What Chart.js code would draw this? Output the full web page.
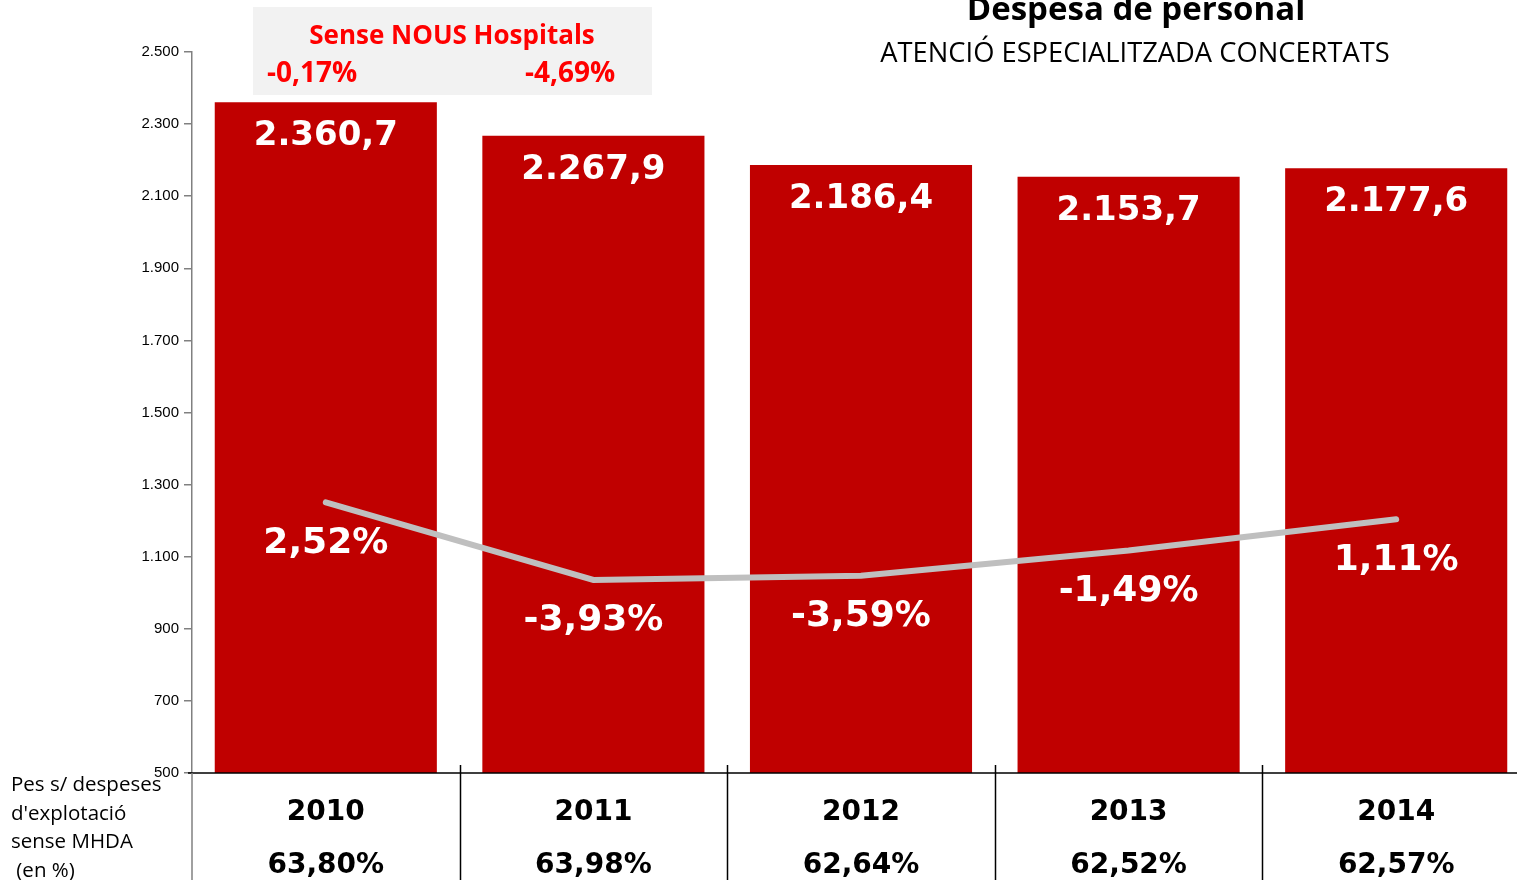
<!DOCTYPE html>
<html>
<head>
<meta charset="utf-8">
<script src="https://cdn.jsdelivr.net/npm/chart.js@4/dist/chart.umd.min.js"></script>
<style>
  html, body { margin: 0; padding: 0; background: #fff; overflow: hidden; }
  #wrap { position: relative; width: 1530px; height: 880px; }
</style>
</head>
<body>
<div id="wrap"><canvas id="myChart"></canvas></div>
<script>
// data
const years = ['2010', '2011', '2012', '2013', '2014'];
const spend = [2360.7, 2267.9, 2186.4, 2153.7, 2177.6];
const growth = [2.52, -3.93, -3.59, -1.49, 1.11];
const share = [63.80, 63.98, 62.64, 62.52, 62.57];
const newHospGrowth = [-0.17, -4.69];
const yTicks = [500, 700, 900, 1100, 1300, 1500, 1700, 1900, 2100, 2300, 2500];

const RED = '#C00000';
const GREY = '#BFBFBF';

function thousands(n) {
  return String(n).replace(/\B(?=(\d{3})+(?!\d))/g, '.');
}
function fmtSpend(v) {
  const parts = v.toFixed(1).split('.');
  return thousands(parts[0]) + ',' + parts[1];
}
function fmtPct(v) {
  return v.toFixed(2).replace('.', ',') + '%';
}

const extras = {
  id: 'extras',
  afterDatasetsDraw(chart) {
    const ctx = chart.ctx;
    const area = chart.chartArea;
    const x = chart.scales.x;
    ctx.save();
    ctx.textAlign = 'center';
    ctx.textBaseline = 'middle';
    ctx.fillStyle = '#fff';

    // bar value labels
    ctx.font = 'bold 34px "DejaVu Sans"';
    chart.getDatasetMeta(1).data.forEach((bar, i) => {
      ctx.fillText(fmtSpend(spend[i]), bar.x, bar.y + 34);
    });
    // growth labels under the line
    ctx.font = 'bold 36px "DejaVu Sans"';
    chart.getDatasetMeta(0).data.forEach((pt, i) => {
      ctx.fillText(fmtPct(growth[i]), pt.x, pt.y + 41);
    });

    // bottom table frame
    ctx.strokeStyle = '#000';
    ctx.lineWidth = 1.5;
    ctx.beginPath();
    ctx.moveTo(188, area.bottom);
    ctx.lineTo(chart.width, area.bottom);
    const w = (area.right - area.left) / years.length;
    for (let i = 1; i < years.length; i++) {
      const sx = Math.round(area.left + i * w) + 0.5;
      ctx.moveTo(sx, area.bottom - 8);
      ctx.lineTo(sx, chart.height);
    }
    ctx.stroke();
    ctx.strokeStyle = '#808080';
    ctx.beginPath();
    ctx.moveTo(area.left, area.bottom);
    ctx.lineTo(area.left, chart.height);
    ctx.stroke();

    ctx.fillStyle = '#000';
    ctx.font = 'bold 28px "DejaVu Sans"';
    years.forEach((yr, i) => {
      const cx = x.getPixelForValue(i);
      ctx.fillText(yr, cx, 813);
      ctx.fillText(fmtPct(share[i]), cx, 866);
    });

    // left row label
    ctx.textAlign = 'left';
    ctx.textBaseline = 'alphabetic';
    ctx.font = '20.5px "Open Sans"';
    ["Pes s/ despeses", "d'explotació", "sense MHDA", " (en %)"].forEach((t, i) => {
      ctx.fillText(t, 11, 791 + i * 28.7);
    });

    // titles
    ctx.textAlign = 'center';
    ctx.font = 'bold 33px "Open Sans"';
    ctx.fillText('Despesa de personal', 1136, 20);
    ctx.font = '27.3px "Open Sans"';
    ctx.fillText('ATENCIÓ ESPECIALITZADA CONCERTATS', 1135, 62);

    // "Sense NOUS Hospitals" box
    ctx.fillStyle = '#F2F2F2';
    ctx.fillRect(253, 7, 399, 88);
    ctx.fillStyle = '#FF0000';
    ctx.font = 'bold 26px "Open Sans"';
    ctx.fillText('Sense NOUS Hospitals', 452, 44);
    ctx.font = 'bold 28px "Open Sans"';
    ctx.fillText(fmtPct(newHospGrowth[0]), 312, 82);
    ctx.fillText(fmtPct(newHospGrowth[1]), 570, 82);
    ctx.restore();
  }
};

new Chart(document.getElementById('myChart'), {
  data: {
    labels: years,
    datasets: [{
      type: 'line',
      data: growth,
      yAxisID: 'y2',
      borderColor: GREY,
      borderWidth: 6,
      pointRadius: 0,
      tension: 0,
      borderCapStyle: 'round'
    }, {
      type: 'bar',
      data: spend,
      yAxisID: 'y',
      backgroundColor: RED,
      barPercentage: 0.83,
      categoryPercentage: 1
    }]
  },
  options: {
    responsive: true,
    maintainAspectRatio: false,
    animation: false,
    layout: { padding: { top: 52, bottom: 107, left: 0, right: 0 } },
    plugins: { legend: { display: false }, tooltip: { enabled: false } },
    scales: {
      x: { display: false },
      y: {
        min: 500,
        max: 2500,
        afterFit(scale) { scale.width = 192; },
        afterBuildTicks(scale) { scale.ticks = yTicks.map(v => ({ value: v })); },
        border: { color: '#808080', width: 1.5 },
        grid: { drawOnChartArea: false, tickLength: 8, color: '#808080', lineWidth: 1.5 },
        ticks: {
          padding: 5,
          color: '#000',
          font: { family: '"Liberation Sans"', size: 15 },
          callback: v => thousands(v)
        }
      },
      y2: { display: false, min: -20, max: 40 }
    }
  },
  plugins: [extras]
});
</script>
</body>
</html>
